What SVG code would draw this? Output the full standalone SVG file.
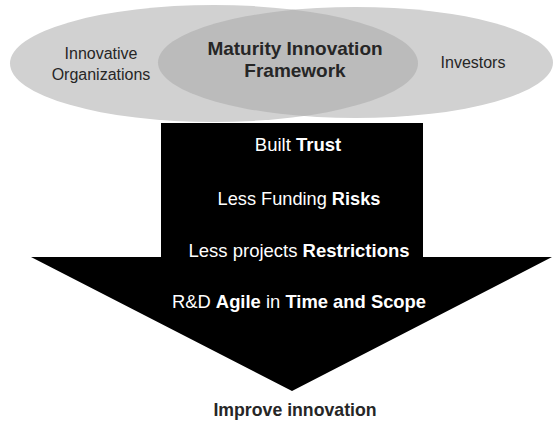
<svg xmlns="http://www.w3.org/2000/svg" width="556" height="426" viewBox="0 0 556 426">
  <style>
    text { font-family: "Liberation Sans", Arial, sans-serif; }
    .dark { fill: #262626; }
    .light { fill: #ffffff; }
    .b { font-weight: bold; }
    .ell { fill: #d1d1d1; }
    .ovl { fill: #bbbbbb; }
  </style>
  <defs>
    <clipPath id="clipLeft">
      <ellipse cx="214" cy="63.5" rx="204" ry="58.5"/>
    </clipPath>
  </defs>
  <rect width="556" height="426" fill="#ffffff"/>
  <g id="innovative-organizations">
    <ellipse class="ell" cx="214" cy="63.5" rx="204" ry="58.5"/>
    <text class="dark" x="101" y="58.5" font-size="16" text-anchor="middle">Innovative</text>
    <text class="dark" x="101" y="79.5" font-size="16" text-anchor="middle">Organizations</text>
  </g>
  <g id="investors">
    <ellipse class="ell" cx="355.5" cy="62.5" rx="197.5" ry="55.5"/>
    <text class="dark" x="473" y="68" font-size="16" text-anchor="middle">Investors</text>
  </g>
  <g id="maturity-innovation-framework">
    <ellipse class="ovl" cx="355.5" cy="62.5" rx="197.5" ry="55.5" clip-path="url(#clipLeft)"/>
    <text class="dark b" x="295" y="55" font-size="19" text-anchor="middle">Maturity Innovation</text>
    <text class="dark b" x="295" y="76.5" font-size="19" text-anchor="middle">Framework</text>
  </g>
  <g id="benefits-arrow">
    <polygon points="161,123 423,123 423,257 552,257 292,391 31,257 161,257" fill="#000000"/>
    <text class="light" x="298" y="151" font-size="18.5" text-anchor="middle">Built <tspan class="b">Trust</tspan></text>
    <text class="light" x="299" y="205" font-size="18.2" text-anchor="middle">Less Funding <tspan class="b">Risks</tspan></text>
    <text class="light" x="299" y="257" font-size="18.5" text-anchor="middle">Less projects <tspan class="b">Restrictions</tspan></text>
    <text class="light" x="299" y="308" font-size="18.4" text-anchor="middle">R&amp;D <tspan class="b">Agile</tspan> in <tspan class="b">Time and Scope</tspan></text>
  </g>
  <g id="improve-innovation">
    <text class="dark b" x="295" y="416" font-size="17.7" text-anchor="middle">Improve innovation</text>
  </g>
  <g id="connectors"/>
</svg>
